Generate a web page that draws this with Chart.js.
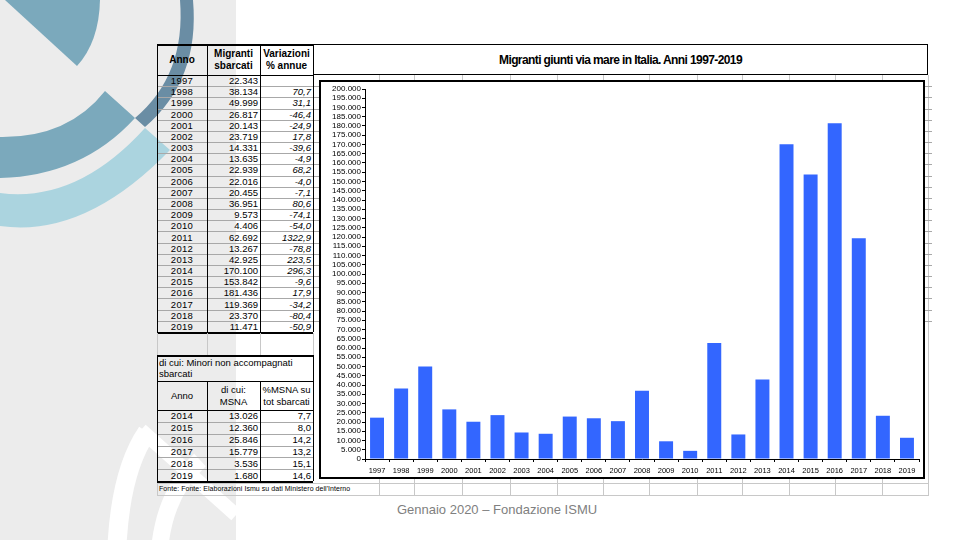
<!DOCTYPE html>
<html>
<head>
<meta charset="utf-8">
<script src="https://cdn.jsdelivr.net/npm/chart.js@4.4.1/dist/chart.umd.min.js"></script>
<style>
  body { margin:0; width:960px; height:540px; position:relative; overflow:hidden; background:#fff;
         font-family:"Liberation Sans", Arial, sans-serif; color:#000; }
  .abs { position:absolute; }
  .ln  { position:absolute; }
  .cell { position:absolute; display:flex; align-items:center; white-space:nowrap; box-sizing:border-box; font-size:9.5px; }
  #title { left:313px; top:44px; width:615px; height:31px; box-sizing:border-box; border:1.5px solid #000; background:#fff;
           display:flex; align-items:center; justify-content:center; font-weight:bold; font-size:12px; letter-spacing:-0.6px; }
  #box { left:319px; top:80px; width:606px; height:399px; box-sizing:border-box; border:2px solid #000; background:#fff; }
  #wrap { position:absolute; left:0; top:0; width:602px; height:395px; }
  #foot { left:159px; top:484px; font-size:7px; letter-spacing:0.05px; line-height:10px; }
  #credit { left:0; width:994px; top:502px; text-align:center; color:#808080; font-size:13px; }
</style>
</head>
<body>
<svg class="abs" style="left:0;top:0" width="240" height="540">
  <rect x="0" y="0" width="236" height="540" fill="#ececec"/>
  <path d="M5,0 L100,0 Q99,42 77,66 Z" fill="#7ba9bc"/>
  <path d="M0,137 Q68,138 105,91 L135,118 Q82,176 0,178 Z" fill="#7ba9bc"/>
  <path d="M180,0 L193,0 Q200,80 145,127 L135,118 Q186,75 180,0 Z" fill="#6a8da4"/>
  <path d="M0,193 Q77,203 145,128 L170,150 Q85,238 0,226 Z" fill="#abd4df"/>
  <path d="M117,545 Q121,470 147,432" stroke="#fff" stroke-width="19" fill="none"/>
  <path d="M141,430 L236,515" stroke="#fff" stroke-width="14" fill="none"/>
  <path d="M160,545 Q166,492 200,460" stroke="#fff" stroke-width="17" fill="none"/>
</svg>
<div id="layer"></div>
<div id="title" class="abs">Migranti giunti via mare in Italia. Anni 1997-2019</div>
<div id="box" class="abs"><div id="wrap"><canvas id="c"></canvas></div></div>
<div id="foot" class="abs">Fonte: Fonte: Elaborazioni Ismu su dati Ministero dell'Interno</div>
<div id="credit" class="abs">Gennaio 2020 – Fondazione ISMU</div>
<script>
// ── data ────────────────────────────────────────────────────────────────
const years = ['1997','1998','1999','2000','2001','2002','2003','2004','2005','2006','2007','2008',
               '2009','2010','2011','2012','2013','2014','2015','2016','2017','2018','2019'];
const migranti = [22343,38134,49999,26817,20143,23719,14331,13635,22939,22016,20455,36951,
                  9573,4406,62692,13267,42925,170100,153842,181436,119369,23370,11471];
const variazioni = [null,70.7,31.1,-46.4,-24.9,17.8,-39.6,-4.9,68.2,-4.0,-7.1,80.6,
                    -74.1,-54.0,1322.9,-78.8,223.5,296.3,-9.6,17.9,-34.2,-80.4,-50.9];
const msnaYears = ['2014','2015','2016','2017','2018','2019'];
const msna = [13026,12360,25846,15779,3536,1680];
const msnaPct = [7.7,8.0,14.2,13.2,15.1,14.6];

const fmtInt = v => String(v).replace(/\B(?=(\d{3})+(?!\d))/g, '.');
const fmtDec = v => v.toFixed(1).replace('.', ',');

// ── sheet helpers ───────────────────────────────────────────────────────
const layer = document.getElementById('layer');
function line(x, y, w, h, c) {
  const d = document.createElement('div');
  d.className = 'ln';
  d.style.cssText = `left:${x}px;top:${y}px;width:${w}px;height:${h}px;background:${c}`;
  layer.appendChild(d);
}
function cell(x, y, w, h, html, align, extra) {
  const d = document.createElement('div');
  d.className = 'cell';
  d.style.cssText = `left:${x}px;top:${y}px;width:${w}px;height:${h}px;justify-content:${align};padding:0 2px;${extra||''}`;
  d.innerHTML = html;
  layer.appendChild(d);
}
const GRID = '#c8c8c8', ROW = '#a8a8a8', BLK = '#000';
const cols = [157, 207, 260, 313];

// spreadsheet gridlines behind the chart
[379,414,462,510,557,603,649,697,742,789,835,882,928].forEach(x => line(x, 75, 1, 420, GRID));
line(157, 483, 772, 1, GRID);
line(157, 495, 772, 1, GRID);
line(157, 481, 1, 15, GRID);

// table 1
const t1Top = 44, t1Head = 75, rh = (332 - 75) / years.length;
for (let i = 1; i < years.length; i++) line(157, t1Head + i * rh, 775, 1, ROW);
cell(157, t1Top, 50, 31, '<b>Anno</b>', 'center', 'font-size:10px');
cell(207, t1Top, 53, 31, '<b>Migranti<br>sbarcati</b>', 'center', 'text-align:center;line-height:12px;font-size:10px');
cell(260, t1Top, 53, 31, '<b>Variazioni<br>% annue</b>', 'center', 'text-align:center;line-height:12px;font-size:10px');
years.forEach((y, i) => {
  const top = t1Head + i * rh;
  cell(157, top, 50, rh, y, 'center', 'letter-spacing:0.3px');
  cell(207, top, 53, rh, fmtInt(migranti[i]), 'flex-end');
  cell(260, top, 53, rh, variazioni[i] === null ? '' : fmtDec(variazioni[i]), 'flex-end', 'font-style:italic');
});
line(157, t1Top, 156, 1.5, BLK);
line(157, t1Head, 156, 1, BLK);
line(157, 332, 156, 1.5, BLK);
cols.forEach(x => line(x - 0.5, t1Top, 1.5, 332 - t1Top, BLK));

// empty row between tables
cols.forEach(x => line(x, 333, 1, 22, GRID));

// table 2
const t2Top = 355, t2Head = 381, t2Rows = 410, t2Bot = 481, rh2 = (t2Bot - t2Rows) / msnaYears.length;
cell(157, t2Top, 156, 26, 'di cui: Minori non accompagnati<br>sbarcati', 'flex-start', 'line-height:11px;font-size:9.5px');
cell(157, t2Head, 50, 29, 'Anno', 'center');
cell(207, t2Head, 53, 29, 'di cui:<br>MSNA', 'center', 'text-align:center;line-height:12px');
cell(260, t2Head, 53, 29, '%MSNA su<br>tot sbarcati', 'center', 'text-align:center;line-height:12px');
msnaYears.forEach((y, i) => {
  const top = t2Rows + i * rh2;
  if (i) line(157, top, 156, 1, ROW);
  cell(157, top, 50, rh2, y, 'center', 'letter-spacing:0.3px');
  cell(207, top, 53, rh2, fmtInt(msna[i]), 'flex-end');
  cell(260, top, 53, rh2, fmtDec(msnaPct[i]), 'flex-end');
});
line(157, t2Top, 156, 1.5, BLK);
line(157, t2Head, 156, 1, BLK);
line(157, t2Rows, 156, 1, BLK);
line(157, t2Bot, 156, 1.5, BLK);
line(156.5, t2Top, 1.5, t2Bot - t2Top, BLK);
line(312.5, t2Top, 1.5, t2Bot - t2Top, BLK);
[207, 260].forEach(x => line(x - 0.5, t2Head, 1.5, t2Bot - t2Head, BLK));

// ── chart ───────────────────────────────────────────────────────────────
Chart.defaults.font.family = "'Liberation Sans', Arial, sans-serif";
Chart.defaults.color = '#000';
new Chart(document.getElementById('c'), {
  type: 'bar',
  data: { labels: years, datasets: [{ data: migranti, backgroundColor: '#3366ff',
          barPercentage: 0.58, categoryPercentage: 1 }] },
  options: {
    responsive: true, maintainAspectRatio: false, animation: false,
    layout: { padding: { top: 7, right: 4, left: 0, bottom: 0 } },
    plugins: { legend: { display: false }, tooltip: { enabled: false } },
    scales: {
      x: { grid: { drawOnChartArea: false, tickLength: 3, color: '#000' }, border: { color: '#000' },
           ticks: { font: { size: 7.5 }, padding: 4, maxRotation: 0, autoSkip: false },
           afterFit: s => { s.height = 18; } },
      y: { min: 0, max: 200000, grid: { drawOnChartArea: false, tickLength: 3, color: '#000' }, border: { color: '#000' },
           ticks: { stepSize: 5000, autoSkip: false, font: { size: 8 }, padding: 1, callback: v => fmtInt(v) },
           afterFit: s => { s.width = 44; } }
    }
  }
});
</script>
</body>
</html>
